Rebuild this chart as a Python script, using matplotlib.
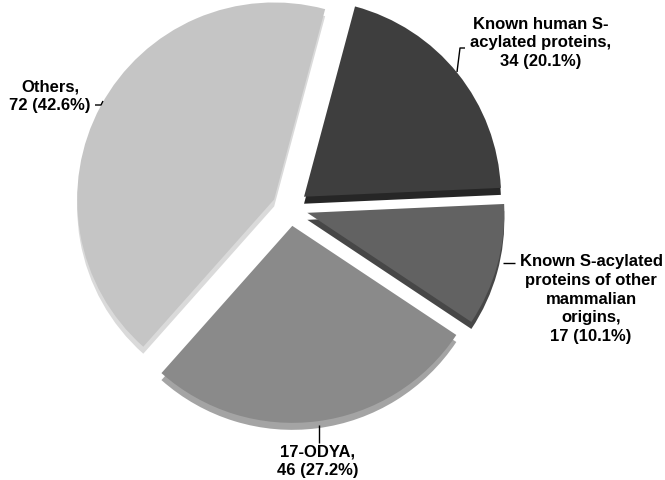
import matplotlib.pyplot as plt

# S-acylated protein hits, clockwise from the top
labels = [
    "Known human S-\nacylated proteins,\n34 (20.1%)",
    "Known S-acylated\nproteins of other\nmammalian\norigins,\n17 (10.1%)",
    "17-ODYA,\n46 (27.2%)",
    "Others,\n72 (42.6%)",
]
counts = [34, 17, 46, 72]
top_colors = ["#3e3e3e", "#626262", "#8a8a8a", "#c5c5c5"]
side_colors = ["#262626", "#474747", "#a4a4a4", "#dadada"]

W, H = 665, 480
CX, CY = 290, 208          # pie centre, pixels from top-left
RADIUS = 197
DEPTH = 7
EXPLODE = [18] * len(counts)   # pie() takes explode in data units


def flip(y):
    return H - y


fig = plt.figure(figsize=(W / 100, H / 100), dpi=100)
ax = fig.add_axes([0, 0, 1, 1])

# side of the disc, drawn first and shifted down
ax.pie(counts, explode=EXPLODE, colors=side_colors, startangle=75,
       counterclock=False, radius=RADIUS, center=(CX, flip(CY + DEPTH)),
       wedgeprops=dict(linewidth=0))
# top face
ax.pie(counts, explode=EXPLODE, colors=top_colors, startangle=75,
       counterclock=False, radius=RADIUS, center=(CX, flip(CY)),
       wedgeprops=dict(linewidth=0))

ax.set_xlim(0, W)
ax.set_ylim(0, H)
ax.set_aspect("equal")
ax.axis("off")

text_kw = dict(ha="center", va="center", fontsize=12, fontweight="bold",
               family=["Liberation Sans", "DejaVu Sans"], linespacing=1.3,
               color="black")
label_pos = [(541, 43), (591, 299), (318, 461), (50, 96)]
leaders = [
    [(465, 48), (460, 48), (457, 72)],
    [(503, 263), (515, 263)],
    [(319, 425), (319, 443)],
    [(95, 105), (101, 105), (103, 101)],
]
for text, (x, y), pts in zip(labels, label_pos, leaders):
    ax.text(x, flip(y), text, **text_kw)
    ax.plot([p[0] for p in pts], [flip(p[1]) for p in pts],
            color="black", linewidth=1.0, solid_capstyle="butt")

fig.savefig("out.png", dpi=100)
